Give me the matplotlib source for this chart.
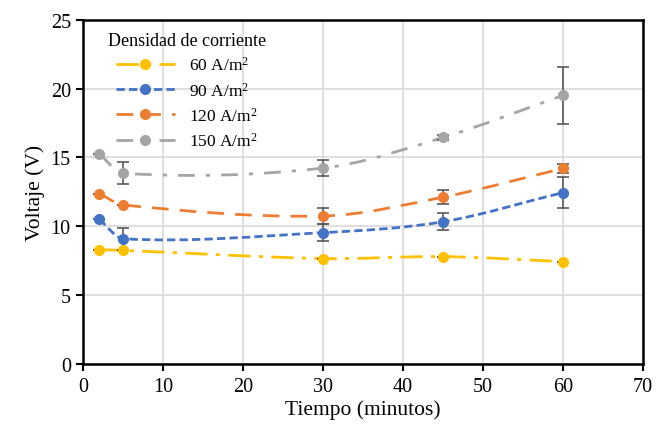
import numpy as np
import matplotlib
matplotlib.use('Agg')
import matplotlib.pyplot as plt
from matplotlib.path import Path
from matplotlib.patches import PathPatch

plt.rcParams['font.family'] = ['Liberation Serif', 'DejaVu Serif']

# datos
tiempo = [2, 5, 30, 45, 60]
etiquetas = ['60 A/m$\\mathregular{^2}$', '90 A/m$\\mathregular{^2}$',
             '120 A/m$\\mathregular{^2}$', '150 A/m$\\mathregular{^2}$']
v60 = [8.3, 8.25, 7.66, 7.8, 7.44]
v90 = [10.5, 9.1, 9.54, 10.33, 12.45]
v120 = [12.38, 11.55, 10.75, 12.12, 14.2]
v150 = [15.25, 13.85, 14.23, 16.45, 19.5]
e60 = [0, 0, 0, 0, 0]
e90 = [0, 0.8, 0.6, 0.6, 1.1]
e120 = [0, 0, 0.6, 0.5, 0.3]
e150 = [0, 0.8, 0.6, 0.2, 2.1]

colores = ['#FFC000', '#4472C4', '#ED7D31', '#A5A5A5']
estilos = [(0, (8, 3, 1.5, 3)), (0, (3, 1.5)), (0, (6, 4)), (0, (6, 4, 1.5, 4))]


def curva_suave(x, y):
    # segmentos Bezier (tipo linea suavizada de Excel), sin lazos en x
    x = np.asarray(x, float)
    y = np.asarray(y, float)
    n = len(x)
    m = np.zeros(n)
    for i in range(n):
        a = max(i - 1, 0)
        b = min(i + 1, n - 1)
        m[i] = (y[b] - y[a]) / (x[b] - x[a])
    verts = [(x[0], y[0])]
    codes = [Path.MOVETO]
    for i in range(n - 1):
        d = (x[i + 1] - x[i]) / 3.0
        verts += [(x[i] + d, y[i] + d * m[i]),
                  (x[i + 1] - d, y[i + 1] - d * m[i + 1]),
                  (x[i + 1], y[i + 1])]
        codes += [Path.CURVE4] * 3
    return Path(verts, codes)


fig = plt.figure(figsize=(6.56, 4.31), dpi=100)
ax = fig.add_axes([0.127, 0.153, 0.853, 0.799])

series = [(v60, e60), (v90, e90), (v120, e120), (v150, e150)]
for (v, e), c, ls, lab in zip(series, colores, estilos, etiquetas):
    patch = PathPatch(curva_suave(tiempo, v), facecolor='none', edgecolor=c,
                      lw=2.0, linestyle=ls, zorder=3)
    ax.add_patch(patch)
    ax.errorbar(tiempo, v, yerr=e, fmt='none', ecolor='#595959', elinewidth=1.2,
                capsize=4, capthick=1.2, zorder=4)
    ax.plot(tiempo, v, 'o', color=c, ms=7, zorder=5)
    ax.plot([], [], color=c, lw=2.0, linestyle=ls, marker='o', ms=7, label=lab)

ax.set_xlim(0, 70)
ax.set_ylim(0, 25)
ax.set_xticks(range(0, 71, 10))
ax.set_yticks(range(0, 26, 5))
ax.grid(True, color='#D9D9D9', lw=1.2)
ax.set_axisbelow(True)
for s in ax.spines.values():
    s.set_color('black')
    s.set_linewidth(1.8)
ax.tick_params(direction='out', length=5, width=1.5, labelsize=14.5, pad=4)

ax.set_xlabel('Tiempo (minutos)', fontsize=15.5, labelpad=3)
ax.set_ylabel('Voltaje (V)', fontsize=15.5, labelpad=4)

leg = ax.legend(title='Densidad de corriente', loc='upper left',
                bbox_to_anchor=(0.025, 0.995), frameon=False, fontsize=12.5,
                title_fontsize=13, handlelength=3.4, labelspacing=0.42,
                borderaxespad=0.2)

fig.savefig('out.png', dpi=100)
